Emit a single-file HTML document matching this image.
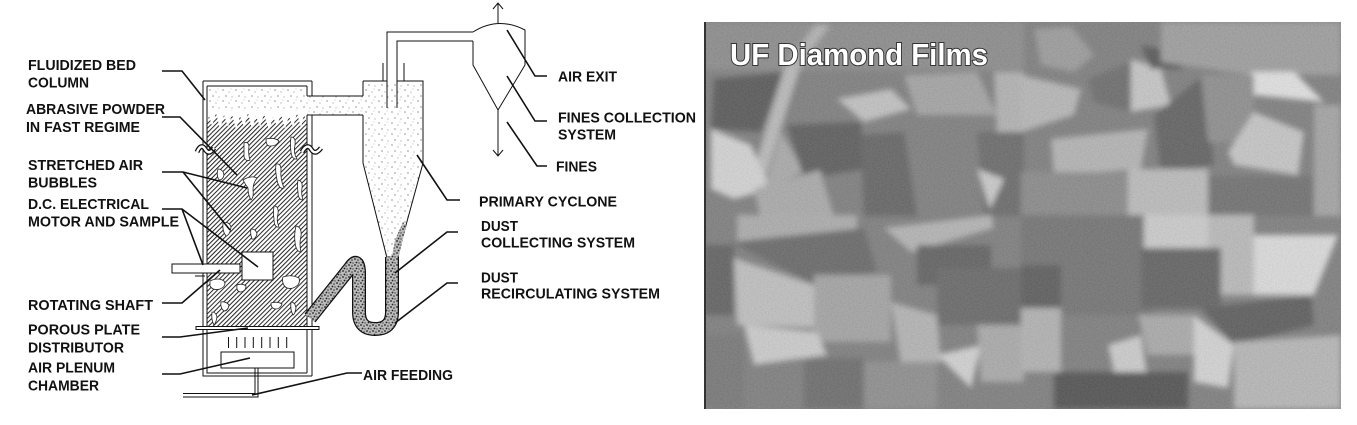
<!DOCTYPE html>
<html><head><meta charset="utf-8"><style>
html,body{margin:0;padding:0;background:#fff;}
svg{display:block;}
.t{font-family:"Liberation Sans",Arial,sans-serif;font-weight:bold;font-size:15px;fill:#111;}
</style></head><body>
<svg width="1357" height="425" viewBox="0 0 1357 425" xmlns="http://www.w3.org/2000/svg">
<defs>
<pattern id="hatch" width="3.2" height="3.2" patternUnits="userSpaceOnUse" patternTransform="rotate(45)">
<rect width="3.2" height="3.2" fill="#fff"/><line x1="0" y1="0" x2="0" y2="3.2" stroke="#222" stroke-width="2"/>
</pattern>
<pattern id="dots" width="13" height="11" patternUnits="userSpaceOnUse">
<rect width="13" height="11" fill="#fff"/>
<circle cx="2" cy="2" r="0.6" fill="#555"/><circle cx="8" cy="4" r="0.5" fill="#666"/><circle cx="5" cy="8" r="0.6" fill="#555"/><circle cx="11" cy="9" r="0.5" fill="#666"/><circle cx="10" cy="1" r="0.4" fill="#777"/>
</pattern>
<pattern id="dense" width="6" height="6" patternUnits="userSpaceOnUse">
<rect width="6" height="6" fill="#bbb"/>
<circle cx="1" cy="1" r="0.9" fill="#222"/><circle cx="4" cy="2" r="0.8" fill="#333"/><circle cx="2.5" cy="4.5" r="0.9" fill="#222"/><circle cx="5" cy="5" r="0.7" fill="#444"/>
</pattern>
<clipPath id="pc"><rect x="704" y="22" width="637" height="387"/></clipPath>
<filter id="bl" x="-5%" y="-5%" width="110%" height="110%"><feGaussianBlur stdDeviation="3"/></filter>
<filter id="nz" x="0" y="0" width="100%" height="100%">
<feTurbulence type="fractalNoise" baseFrequency="0.7" numOctaves="2" seed="4"/>
<feColorMatrix type="matrix" values="1 0 0 0 0  1 0 0 0 0  1 0 0 0 0  0 0 0 0 1"/>
</filter>
</defs>

<!-- ===== Photo ===== -->
<g clip-path="url(#pc)">
<rect x="704" y="22" width="637" height="387" fill="#7c7c7c"/>
<g filter="url(#bl)">
<polygon fill="#8a8a8a" points="704,22 1024,22 1024,70 704,70"/>
<polygon fill="#575757" points="714,79 784,72 761,132 711,129"/>
<polygon fill="#b0b0b0" points="815,25 830,25 801,65 784,69"/>
<polygon fill="#b8b8b8" points="784,69 801,65 764,182 751,179"/>
<polygon fill="#d2d2d2" points="711,129 751,145 771,189 734,199 711,189"/>
<polygon fill="#a8a8a8" points="781,132 804,172 764,189"/>
<polygon fill="#5a5a5a" points="787,125 861,122 864,169 804,179"/>
<polygon fill="#c0c0c0" points="837,99 891,89 911,109 864,122"/>
<polygon fill="#626262" points="861,135 904,132 917,216 864,216"/>
<polygon fill="#a2a2a2" points="904,75 977,72 997,115 917,115"/>
<polygon fill="#b0b0b0" points="994,72 1024,72 1024,132 997,132"/>
<polygon fill="#686868" points="977,132 1024,132 1024,216 984,216"/>
<polygon fill="#c8c8c8" points="977,169 1004,179 990,209"/>
<polygon fill="#a8a8a8" points="754,189 820,170 834,216 760,216"/>

<polygon fill="#b5b5b5" points="1021,75 1081,89 1074,115 1021,132"/>
<polygon fill="#9a9a9a" points="1034,29 1071,26 1094,55 1074,72 1041,65"/>
<polygon fill="#c4c4c4" points="1131,59 1161,69 1171,105 1131,112"/>
<polygon fill="#6a6a6a" points="1088,79 1131,62 1131,112 1094,102"/>
<polygon fill="#555555" points="1141,45 1188,55 1181,69 1151,69"/>
<polygon fill="#9c9c9c" points="1161,22 1341,22 1341,75 1251,75 1161,62"/>
<polygon fill="#e0e0e0" points="1251,72 1294,72 1324,102 1254,95"/>
<polygon fill="#5e5e5e" points="1154,115 1204,75 1214,165 1161,175"/>
<polygon fill="#8c8c8c" points="1201,75 1254,75 1254,142 1208,142"/>
<polygon fill="#c4c4c4" points="1254,112 1304,132 1298,175 1234,165 1228,152"/>
<polygon fill="#b2b2b2" points="1051,139 1148,129 1141,169 1054,175"/>
<polygon fill="#bababa" points="1128,169 1208,169 1208,216 1128,216"/>
<polygon fill="#a2a2a2" points="1314,105 1341,105 1341,216 1314,216"/>
<polygon fill="#888888" points="1021,172 1128,172 1128,216 1021,216"/>
<polygon fill="#6e6e6e" points="1208,176 1314,176 1314,216 1208,216"/>

<polygon fill="#aaaaaa" points="737,215 857,215 857,242 737,242"/>
<polygon fill="#666666" points="731,242 864,228 877,272 814,285"/>
<polygon fill="#bebebe" points="734,258 814,285 817,328 737,325"/>
<polygon fill="#a2a2a2" points="814,275 891,275 891,342 814,342"/>
<polygon fill="#cacaca" points="744,325 817,332 827,355 754,365"/>
<polygon fill="#5e5e5e" points="704,245 734,245 734,315 704,315"/>
<polygon fill="#b2b2b2" points="884,228 991,215 994,228 911,252"/>
<polygon fill="#5e5e5e" points="917,245 991,245 991,285 917,285"/>
<polygon fill="#b2b2b2" points="891,302 937,315 941,362 901,365"/>
<polygon fill="#666666" points="937,268 1024,268 1024,325 937,325"/>
<polygon fill="#d0d0d0" points="937,355 981,345 971,388"/>
<polygon fill="#a8a8a8" points="977,325 1024,325 1024,382 981,382"/>
<polygon fill="#6a6a6a" points="804,358 864,358 864,409 804,409"/>
<polygon fill="#747474" points="704,335 744,335 744,409 704,409"/>
<polygon fill="#8c8c8c" points="864,362 937,362 937,409 864,409"/>

<polygon fill="#717171" points="1021,215 1154,215 1154,315 1021,315"/>
<polygon fill="#cacaca" points="1144,215 1208,215 1208,248 1144,248"/>
<polygon fill="#b8b8b8" points="1208,215 1254,215 1254,295 1208,295"/>
<polygon fill="#dadada" points="1254,235 1338,235 1314,295 1254,295"/>
<polygon fill="#5a5a5a" points="1201,308 1311,295 1314,325 1234,345"/>
<polygon fill="#d2d2d2" points="1194,315 1234,345 1228,388 1194,382"/>
<polygon fill="#b5b5b5" points="1234,342 1341,335 1341,409 1234,409"/>
<polygon fill="#606060" points="1141,248 1221,248 1221,308 1141,308"/>
<polygon fill="#a8a8a8" points="1138,315 1194,315 1194,355 1148,355"/>
<polygon fill="#cacaca" points="1108,345 1141,335 1148,382 1114,372"/>
<polygon fill="#b0b0b0" points="1021,308 1061,308 1061,372 1021,372"/>
<polygon fill="#5a5a5a" points="1021,265 1061,265 1061,308 1021,308"/>
<polygon fill="#505050" points="1054,372 1188,372 1188,409 1054,409"/>
</g>
<rect x="704" y="22" width="637" height="387" filter="url(#nz)" opacity="0.14"/>
<line x1="705" y1="22" x2="705" y2="409" stroke="#333" stroke-width="2"/>
<text x="730" y="65" font-family="Liberation Sans, Arial, sans-serif" font-weight="bold" font-size="31" fill="#fff" stroke="#333" stroke-width="2" paint-order="stroke" textLength="258" lengthAdjust="spacingAndGlyphs">UF Diamond Films</text>
</g>

<!-- ===== Diagram ===== -->
<g fill="none" stroke="#111" stroke-width="1">
<rect x="207" y="86" width="100" height="30" fill="url(#dots)" stroke="none"/>
<rect x="305" y="96" width="60" height="19" fill="url(#dots)" stroke="none"/>
<polygon points="363,81 423,81 423,163 397,258 387,258 363,163" fill="url(#dots)" stroke="none"/>
<rect x="207" y="113" width="100" height="214" fill="url(#hatch)" stroke="none"/>
<polygon fill="#fff" stroke="none" points="207,111 307,111 307,124 304,114 301,128 297,113 293,127 289,116 285,129 281,114 277,126 273,117 269,130 264,114 260,127 256,116 252,129 248,113 244,127 240,116 236,130 232,114 228,127 224,115 220,129 216,113 212,126 209,116 207,124"/>
<g fill="#fff" stroke="#222" stroke-width="0.8">
<path d="M244,143 q4,-2 5,3 q-1,8 1,14 q-4,2 -6,-3 q0,-7 0,-14z"/>
<path d="M266,139 q8,-2 13,2 q-2,5 -8,5 q-5,1 -5,-7z"/>
<path d="M291,137 q5,0 4,8 q-2,8 2,14 q-5,1 -6,-7 q-1,-8 0,-15z"/>
<path d="M243,180 q8,-5 14,-2 q-4,5 -4,12 q1,7 -2,10 q-3,-5 -3,-12 q-3,-4 -5,-8z"/>
<path d="M276,164 q5,-1 5,6 q-1,8 3,18 q-5,2 -7,-8 q-2,-9 -1,-16z"/>
<path d="M298,180 q5,1 4,8 q-1,6 1,12 q-5,0 -5,-8 q-1,-6 0,-12z"/>
<path d="M218,169 q5,0 6,6 q-1,5 -5,5 q-3,-5 -1,-11z"/>
<path d="M274,206 q5,0 4,8 q-2,6 1,13 q-5,1 -5,-8 q-1,-6 0,-13z"/>
<path d="M223,223 q6,-2 8,4 q-1,8 -5,9 q-4,-5 -3,-13z"/>
<path d="M251,229 q5,0 6,5 q-2,6 -5,5 q-2,-5 -1,-10z"/>
<path d="M296,226 q6,1 5,10 q-2,8 0,16 q-5,0 -6,-10 q-1,-8 1,-16z"/>
<path d="M283,277 q8,-3 16,1 q2,7 -6,10 q-8,2 -10,-5 q-1,-3 0,-6z"/>
<path d="M210,281 q8,-4 14,0 q3,5 -4,8 q-7,2 -10,-3z"/>
<path d="M237,285 q5,-2 9,1 q0,5 -5,6 q-5,0 -4,-7z"/>
<path d="M221,302 q5,-1 8,3 q-1,6 -5,6 q-4,-3 -3,-9z"/>
<path d="M271,303 q6,-2 11,1 q-2,5 -6,5 q-5,0 -5,-6z"/>
<path d="M291,302 q4,0 5,6 q-1,6 -3,7 q-3,-5 -2,-13z"/>
<path d="M212,312 q4,0 5,5 q-1,6 -3,8 q-3,-5 -2,-13z"/>
</g>
<path d="M203,81 L312,81 M207,86 L307,86 M203,81 L203,376 L312,376 M207,86 L207,373 L307,373 M312,81 L312,96 M312,115 L312,376 M307,86 L307,96 M307,115 L307,373"/>
<path d="M307,96 L363,96 M307,115 L363,115"/>
<path d="M363,81 L387,81 M397,81 L423,81 L423,163 L397,258 M363,81 L363,96 M363,115 L363,163 L387,258"/>
<path d="M387,108 L387,32 L473,32 M397,108 L397,41 L473,41 M383,63 L383,81 M404,63 L404,81"/>
<path d="M473,32 Q498,16 525,30 L525,65 L498,110 L473,65 L473,41"/>
<path d="M498,23 L498,3 M493,9 L498,3 L503,9 M498,110 L498,156 M493,150 L498,156 L503,150"/>
<polygon points="403,222 406,226 398,260 391,262 395,240" fill="url(#dense)" stroke="none"/>
<path d="M310,318 L350,268 Q358,256 359,272 L359,312 Q359,329 375,329 Q392,329 392,312 L392,257" stroke="#111" stroke-width="14"/>
<path d="M310,318 L350,268 Q358,256 359,272 L359,312 Q359,329 375,329 Q392,329 392,312 L392,256" stroke="url(#dense)" stroke-width="11.5"/>
<rect x="196" y="326.5" width="123" height="3" fill="#fff"/>
<path d="M228.5,337 L228.5,348 M236.7,337 L236.7,348 M245,337 L245,348 M253.3,337 L253.3,348 M261.7,337 L261.7,348 M270,337 L270,348 M278.3,337 L278.3,348 M286.7,337 L286.7,348"/>
<rect x="221" y="352" width="73" height="16" fill="#fff"/>
<path d="M183,393.5 L255,393.5 L255,368 M183,397 L258,397 L258,368"/>
<rect x="172" y="264" width="68" height="9" fill="#fff"/>
<path d="M195,276 L205,276"/>
<rect x="242" y="252" width="31" height="28" fill="#fff"/>
<g stroke="#111" stroke-width="5"><path d="M197,152 q4,-9 8,-3 q4,7 9,-1"/><path d="M302,152 q5,-9 9,-3 q4,7 10,-1"/></g>
<g stroke="#fff" stroke-width="2.4"><path d="M197,152 q4,-9 8,-3 q4,7 9,-1"/><path d="M302,152 q5,-9 9,-3 q4,7 10,-1"/></g>
</g>

<g fill="none" stroke="#111" stroke-width="1.6">
<path d="M162,71 L182,71 L205,100"/>
<path d="M162,117 L180,117 L237,175"/>
<path d="M162,172 L183,172 L247,188 M183,172 L230,230"/>
<path d="M162,209 L182,209 L258,267 M182,209 L203,265"/>
<path d="M162,303 L182,303 L220,270"/>
<path d="M162,337 L180,337 L248,328"/>
<path d="M162,374 L180,374 L250,358"/>
<path d="M362,373 L347,373 L252,395"/>
<path d="M547,76 L535,76 L507,30"/>
<path d="M547,121 L535,121 L507,76"/>
<path d="M547,166 L537,166 L507,122"/>
<path d="M460,200 L447,200 L417,155"/>
<path d="M458,232 L447,232 L395,273"/>
<path d="M458,283 L447,283 L395,323"/>
</g>

<text class="t" x="28" y="70" textLength="108" lengthAdjust="spacingAndGlyphs">FLUIDIZED BED</text>
<text class="t" x="28" y="87.3" textLength="61" lengthAdjust="spacingAndGlyphs">COLUMN</text>
<text class="t" x="26" y="114" textLength="139" lengthAdjust="spacingAndGlyphs">ABRASIVE POWDER</text>
<text class="t" x="26" y="132" textLength="114" lengthAdjust="spacingAndGlyphs">IN FAST REGIME</text>
<text class="t" x="28" y="170" textLength="115" lengthAdjust="spacingAndGlyphs">STRETCHED AIR</text>
<text class="t" x="28" y="187.3" textLength="69" lengthAdjust="spacingAndGlyphs">BUBBLES</text>
<text class="t" x="28" y="209" textLength="121" lengthAdjust="spacingAndGlyphs">D.C. ELECTRICAL</text>
<text class="t" x="28" y="226.7" textLength="151" lengthAdjust="spacingAndGlyphs">MOTOR AND SAMPLE</text>
<text class="t" x="28" y="310" textLength="125" lengthAdjust="spacingAndGlyphs">ROTATING SHAFT</text>
<text class="t" x="28" y="334.3" textLength="112" lengthAdjust="spacingAndGlyphs">POROUS PLATE</text>
<text class="t" x="28" y="352.3" textLength="96" lengthAdjust="spacingAndGlyphs">DISTRIBUTOR</text>
<text class="t" x="28" y="372.7" textLength="87" lengthAdjust="spacingAndGlyphs">AIR PLENUM</text>
<text class="t" x="28" y="390.7" textLength="71" lengthAdjust="spacingAndGlyphs">CHAMBER</text>
<text class="t" x="363" y="380" textLength="90" lengthAdjust="spacingAndGlyphs">AIR FEEDING</text>
<text class="t" x="558" y="81.7" textLength="59" lengthAdjust="spacingAndGlyphs">AIR EXIT</text>
<text class="t" x="558" y="122.7" textLength="138" lengthAdjust="spacingAndGlyphs">FINES COLLECTION</text>
<text class="t" x="558" y="139.3" textLength="58" lengthAdjust="spacingAndGlyphs">SYSTEM</text>
<text class="t" x="556" y="171.7" textLength="41" lengthAdjust="spacingAndGlyphs">FINES</text>
<text class="t" x="479" y="206.7" textLength="138" lengthAdjust="spacingAndGlyphs">PRIMARY CYCLONE</text>
<text class="t" x="481" y="231" textLength="37" lengthAdjust="spacingAndGlyphs">DUST</text>
<text class="t" x="481" y="247.7" textLength="154" lengthAdjust="spacingAndGlyphs">COLLECTING SYSTEM</text>
<text class="t" x="481" y="282.7" textLength="37" lengthAdjust="spacingAndGlyphs">DUST</text>
<text class="t" x="481" y="298.7" textLength="179" lengthAdjust="spacingAndGlyphs">RECIRCULATING SYSTEM</text>
</svg>
</body></html>
